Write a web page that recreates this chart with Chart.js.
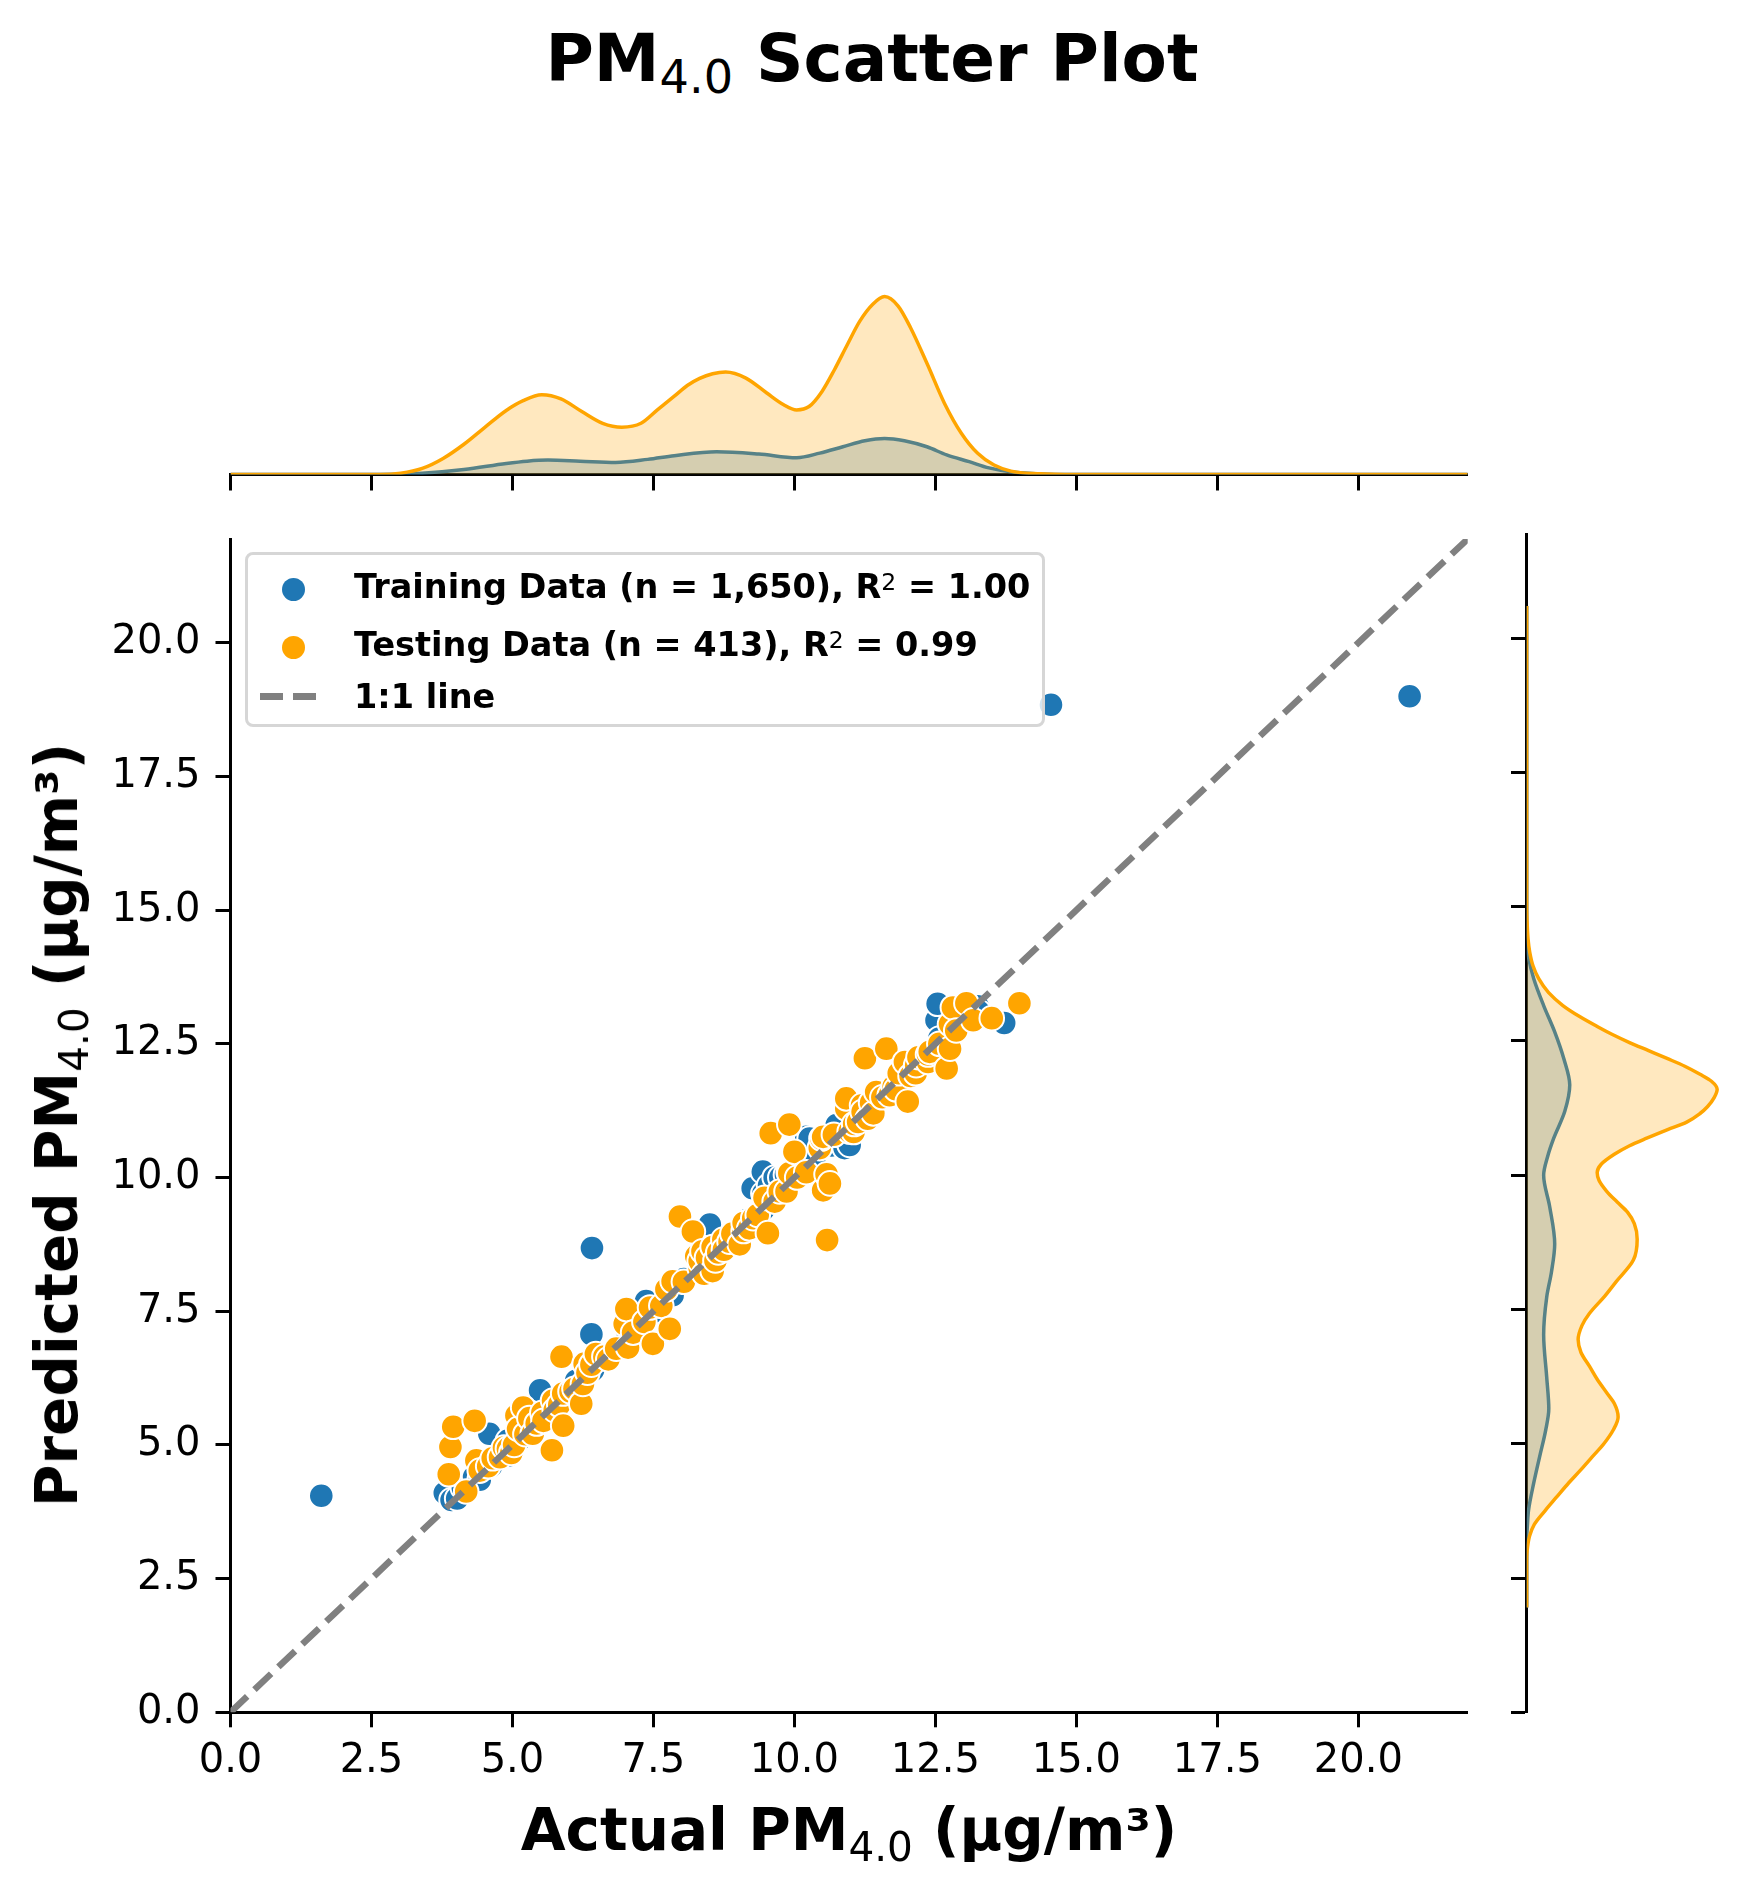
<!DOCTYPE html>
<html>
<head>
<meta charset="utf-8">
<title>PM4.0 Scatter Plot</title>
<script src="https://cdn.jsdelivr.net/npm/chart.js@4.4.1/dist/chart.umd.min.js"></script>
<style>
  html, body { margin: 0; padding: 0; background: #fff; }
  body { width: 1755px; height: 1891px; position: relative; overflow: hidden;
         font-family: "DejaVu Sans", sans-serif; color: #000; }
  canvas { position: absolute; }
  .txt { position: absolute; white-space: nowrap; line-height: 1; font-weight: bold; }
  .sub { font-size: 0.7em; font-weight: normal; position: relative; top: 0.26em; }
  .sup { font-size: 0.7em; font-weight: normal; position: relative; top: -0.33em; }
  #legend-box { position: absolute; left: 245px; top: 552px; width: 800px; height: 175px;
                box-sizing: border-box; border: 3px solid #d6d6d6; border-radius: 8px;
                background: rgba(255, 255, 255, 0.8); }
  .dot { position: absolute; width: 23px; height: 23px; border-radius: 50%; }
  .dash { position: absolute; height: 7px; width: 23px; background: #808080; }
  .legend-txt { font-size: 33.5px; left: 354px; }
</style>
</head>
<body>
<div class="txt" style="font-size:66px;left:0;top:26px;width:1744px;text-align:center">PM<span class="sub">4.0</span> Scatter Plot</div>

<canvas id="top-kde" width="1500" height="260" style="left:0;top:250px;width:1500px;height:260px"></canvas>
<canvas id="scatter" width="1500" height="1300" style="left:0;top:500px;width:1500px;height:1300px"></canvas>
<canvas id="right-kde" width="255" height="1300" style="left:1500px;top:500px;width:255px;height:1300px"></canvas>

<div id="legend-box"></div>
<span class="dot" style="left:281.5px;top:577.5px;background:#1f77b4"></span>
<span class="dot" style="left:281.5px;top:635.5px;background:#ffa500"></span>
<span class="dash" style="left:260px;top:692.5px"></span>
<span class="dash" style="left:293px;top:692.5px"></span>
<div class="txt legend-txt" style="top:569.7px">Training Data (n = 1,650), R<span class="sup">2</span> = 1.00</div>
<div class="txt legend-txt" style="top:627.7px">Testing Data (n = 413), R<span class="sup">2</span> = 0.99</div>
<div class="txt legend-txt" style="top:679.7px">1:1 line</div>

<div class="txt" style="font-size:58px;left:0;top:1801px;width:1698px;text-align:center">Actual PM<span class="sub">4.0</span> (μg/m³)</div>
<div class="txt" style="font-size:58px;left:57px;top:1125px;transform:translate(-50%,-50%) rotate(-90deg)">Predicted PM<span class="sub">4.0</span> (μg/m³)</div>

<script>
// axis range and tick step shared by the joint plot and both marginals
const axisMin = 0;
const axisMax = 21.94;
const tickStep = 2.5;

// [actual, predicted]
const trainingPoints = [
  [1.61, 4.05], [3.8, 4.1], [3.92, 3.97], [4.02, 4.0], [4.12, 4.2], [4.32, 4.4], [4.42, 4.35],
  [4.59, 5.21], [4.62, 4.6], [4.92, 5.08], [4.93, 4.8], [5.13, 5.1], [5.33, 5.3], [5.49, 6.02],
  [5.63, 5.6], [5.93, 5.9], [6.13, 6.2], [6.4, 7.07], [6.41, 8.68], [6.43, 6.4], [6.74, 6.7],
  [7.04, 7.0], [7.24, 7.2], [7.37, 7.69], [7.54, 7.5], [7.84, 7.8], [8.04, 8.1], [8.34, 8.3],
  [8.5, 9.12], [8.65, 8.7], [8.95, 8.9], [9.15, 9.2], [9.26, 9.8], [9.44, 10.11], [9.45, 9.4],
  [9.45, 9.7], [9.55, 9.85], [9.65, 10.0], [9.75, 9.75], [9.75, 10.0], [9.85, 10.05],
  [9.9, 10.1], [10.05, 10.0], [10.21, 10.76], [10.27, 10.73], [10.35, 10.3], [10.66, 10.6],
  [10.75, 10.98], [10.89, 10.55], [10.98, 10.61], [11.06, 10.9], [11.36, 11.3], [11.66, 11.6],
  [11.96, 11.9], [12.26, 12.2], [12.52, 12.94], [12.54, 13.25], [12.57, 12.6], [12.87, 12.8],
  [13.07, 13.2], [13.25, 13.2], [13.27, 13.1], [13.72, 12.89], [14.55, 18.84], [20.91, 19.0]
];

const testingPoints = [
  [3.87, 4.45], [3.9, 4.96], [3.95, 5.34], [4.18, 4.13], [4.33, 5.45], [4.36, 4.71],
  [4.42, 4.52], [4.57, 4.6], [4.65, 4.75], [4.78, 4.77], [4.85, 4.95], [4.92, 4.93],
  [4.98, 4.85], [5.03, 5.0], [5.07, 5.55], [5.1, 5.3], [5.19, 5.7], [5.23, 5.2], [5.3, 5.5],
  [5.36, 5.21], [5.43, 5.4], [5.53, 5.6], [5.55, 5.45], [5.7, 4.9], [5.72, 5.83], [5.75, 5.65],
  [5.83, 5.75], [5.87, 6.65], [5.9, 5.36], [5.9, 5.96], [6.03, 6.0], [6.1, 6.05], [6.22, 5.77],
  [6.25, 6.14], [6.28, 6.52], [6.33, 6.35], [6.4, 6.5], [6.48, 6.7], [6.63, 6.65], [6.7, 6.6],
  [6.84, 6.8], [6.99, 7.26], [7.02, 7.54], [7.05, 6.82], [7.14, 7.1], [7.34, 7.3], [7.44, 7.57],
  [7.49, 6.89], [7.64, 7.6], [7.73, 7.91], [7.79, 7.17], [7.84, 8.06], [7.97, 9.27],
  [8.04, 8.05], [8.2, 8.99], [8.26, 8.53], [8.32, 8.31], [8.32, 8.44], [8.37, 8.62],
  [8.4, 8.2], [8.45, 8.5], [8.55, 8.25], [8.55, 8.7], [8.6, 8.45], [8.65, 8.6], [8.74, 8.84],
  [8.75, 8.65], [8.85, 8.8], [8.9, 8.95], [9.03, 8.75], [9.1, 9.0], [9.1, 9.15], [9.2, 9.05],
  [9.27, 9.24], [9.35, 9.3], [9.47, 9.62], [9.53, 8.96], [9.58, 10.83], [9.65, 9.55],
  [9.74, 9.74], [9.86, 9.74], [9.91, 10.08], [9.91, 10.99], [10.0, 10.48], [10.05, 10.0],
  [10.21, 10.1], [10.45, 10.55], [10.48, 10.73], [10.51, 9.76], [10.51, 10.76], [10.57, 10.06],
  [10.58, 8.83], [10.63, 9.89], [10.7, 10.8], [10.92, 11.29], [10.92, 11.48], [10.98, 10.86],
  [11.05, 10.85], [11.06, 11.0], [11.13, 11.04], [11.2, 11.35], [11.21, 11.23], [11.25, 12.23],
  [11.3, 11.1], [11.36, 11.4], [11.4, 11.2], [11.45, 11.6], [11.56, 11.5], [11.63, 12.41],
  [11.69, 11.54], [11.76, 11.7], [11.8, 11.65], [11.85, 11.95], [11.96, 12.16], [12.01, 11.42],
  [12.06, 11.9], [12.15, 11.95], [12.16, 12.1], [12.2, 12.25], [12.37, 12.16], [12.37, 12.3],
  [12.4, 12.35], [12.57, 12.5], [12.7, 12.04], [12.76, 12.41], [12.76, 12.87], [12.81, 13.18],
  [12.87, 12.75], [13.05, 13.26], [13.17, 12.94], [13.5, 12.98], [13.99, 13.26]
];

const oneToOne = [0, 21.94];

// marginal densities, relative to the testing peak: [value, density]
const topTrainKde = [
  [0, 0], [2.65, 0], [3.4, 0.007], [4.14, 0.028], [4.89, 0.062], [5.26, 0.075], [5.63, 0.081],
  [6.2, 0.075], [6.83, 0.068], [7.4, 0.085], [7.87, 0.106], [8.62, 0.128], [9.37, 0.115],
  [10.04, 0.094], [10.45, 0.12], [10.86, 0.156], [11.25, 0.19], [11.6, 0.203], [11.95, 0.19],
  [12.35, 0.156], [12.7, 0.11], [13.1, 0.072], [13.45, 0.037], [13.84, 0.015], [14.35, 0.003],
  [15, 0], [21.94, 0]
];
const topTestKde = [
  [0, 0], [2.65, 0], [3.02, 0.0075], [3.4, 0.034], [3.77, 0.09], [4.14, 0.17], [4.51, 0.265],
  [4.89, 0.36], [5.19, 0.415], [5.52, 0.448], [5.86, 0.425], [6.23, 0.354], [6.6, 0.288],
  [6.94, 0.266], [7.28, 0.288], [7.57, 0.363], [7.87, 0.44], [8.1, 0.5], [8.32, 0.54],
  [8.55, 0.566], [8.78, 0.576], [9.14, 0.542], [9.51, 0.458], [9.81, 0.392], [10.04, 0.363],
  [10.26, 0.382], [10.49, 0.467], [10.71, 0.589], [10.94, 0.731], [11.16, 0.862], [11.39, 0.957],
  [11.6, 1.0], [11.84, 0.947], [12.06, 0.825], [12.36, 0.618], [12.66, 0.401], [12.96, 0.232],
  [13.25, 0.119], [13.54, 0.053], [13.84, 0.019], [14.35, 0.004], [15, 0], [21.94, 0]
];
const rightTrainKde = [
  [1.95, 0], [3.2, 0], [3.5, 0.004], [3.77, 0.01], [4.27, 0.037], [4.76, 0.068], [5.26, 0.1],
  [5.65, 0.116], [6.24, 0.105], [7.03, 0.089], [7.73, 0.105], [8.2, 0.13], [8.72, 0.147],
  [9.41, 0.121], [10.0, 0.089], [10.35, 0.11], [10.69, 0.142], [11.19, 0.2], [11.68, 0.226],
  [12.17, 0.195], [12.67, 0.147], [13.16, 0.089], [13.66, 0.037], [14.05, 0.01], [14.35, 0],
  [20.6, 0]
];
const rightTestKde = [
  [1.95, 0], [2.8, 0], [3.0, 0.002], [3.28, 0.015], [3.5, 0.04], [3.77, 0.1], [4.0, 0.155],
  [4.27, 0.22], [4.5, 0.28], [4.76, 0.345], [5.0, 0.405], [5.26, 0.455], [5.5, 0.48],
  [5.75, 0.46], [5.95, 0.42], [6.2, 0.37], [6.44, 0.33], [6.7, 0.285], [6.94, 0.27], [7.2, 0.29],
  [7.43, 0.33], [7.75, 0.41], [8.02, 0.47], [8.42, 0.56], [8.81, 0.58], [9.1, 0.565],
  [9.31, 0.53], [9.5, 0.475], [9.7, 0.42], [9.9, 0.38], [10.05, 0.37], [10.2, 0.39],
  [10.39, 0.46], [10.55, 0.54], [10.69, 0.63], [10.85, 0.74], [10.99, 0.84], [11.15, 0.91],
  [11.28, 0.95], [11.45, 0.985], [11.6, 1.0], [11.75, 0.97], [11.88, 0.91], [12.03, 0.83],
  [12.17, 0.74], [12.32, 0.64], [12.47, 0.54], [12.62, 0.45], [12.77, 0.37], [12.95, 0.28],
  [13.16, 0.19], [13.4, 0.115], [13.66, 0.063], [13.9, 0.033], [14.15, 0.016], [14.4, 0.007],
  [14.64, 0.003], [15, 0], [20.6, 0]
];

const BLUE = "#1f77b4";
const ORANGE = "#ffa500";
const BLUE_FILL = "rgba(31, 119, 180, 0.25)";
const ORANGE_FILL = "rgba(255, 165, 0, 0.25)";

Chart.defaults.font.family = '"DejaVu Sans", sans-serif';
Chart.defaults.color = "#000";

const toXY = (arr) => arr.map(([x, y]) => ({ x, y }));
const fmt = (v) => Number(v).toFixed(1);

const axisTicks = (len, extra = {}) => ({
  border: { color: "#000", width: 3 },
  grid: { drawOnChartArea: false, drawTicks: true, tickLength: len, tickWidth: 3, tickColor: "#000", color: "#000" },
  ticks: { stepSize: tickStep, includeBounds: false, autoSkip: false, maxRotation: 0, ...extra },
});

const baseOpts = {
  responsive: false,
  animation: false,
  events: [],
  plugins: { legend: { display: false }, tooltip: { enabled: false } },
};

// joint scatter
new Chart(document.getElementById("scatter"), {
  type: "scatter",
  data: {
    datasets: [
      {
        label: "1:1 line",
        data: oneToOne.map((v) => ({ x: v, y: v })),
        showLine: true,
        borderColor: "#808080",
        borderWidth: 6.5,
        borderDash: [23, 10],
        pointRadius: 0,
        order: 0,
      },
      {
        label: "Testing Data",
        data: toXY(testingPoints),
        backgroundColor: ORANGE,
        borderColor: "#fff",
        borderWidth: 2,
        pointRadius: 12.3,
        order: 1,
      },
      {
        label: "Training Data",
        data: toXY(trainingPoints),
        backgroundColor: BLUE,
        borderColor: "#fff",
        borderWidth: 2,
        pointRadius: 12.3,
        order: 2,
      },
    ],
  },
  options: {
    ...baseOpts,
    layout: { padding: { top: 34, right: 32.3, bottom: 0, left: 0 } },
    scales: {
      x: {
        type: "linear", min: axisMin, max: axisMax,
        afterFit: (s) => { s.height = 87.7; },
        ...axisTicks(15, { font: { size: 40 }, padding: 10, callback: fmt }),
      },
      y: {
        type: "linear", min: axisMin, max: axisMax,
        afterFit: (s) => { s.width = 230.5; },
        ...axisTicks(15, { font: { size: 40 }, padding: 15, callback: fmt }),
      },
    },
  },
});

const kdeSet = (data, line, fill) => ({
  data,
  showLine: true,
  borderColor: line,
  backgroundColor: fill,
  borderWidth: 3.5,
  pointRadius: 0,
  fill: "origin",
  cubicInterpolationMode: "monotone",
});

// top marginal (actual values)
new Chart(document.getElementById("top-kde"), {
  type: "scatter",
  data: {
    datasets: [
      kdeSet(toXY(topTestKde), ORANGE, ORANGE_FILL),
      kdeSet(toXY(topTrainKde), BLUE, BLUE_FILL),
    ],
  },
  options: {
    ...baseOpts,
    layout: { padding: { top: 37.7, right: 32.3, bottom: 0, left: 230.5 } },
    scales: {
      x: {
        type: "linear", min: axisMin, max: axisMax,
        afterFit: (s) => { s.height = 35.5; },
        ...axisTicks(16, { display: false }),
      },
      y: { type: "linear", display: false, min: 0, max: 1.05 },
    },
  },
});

// right marginal (predicted values)
new Chart(document.getElementById("right-kde"), {
  type: "scatter",
  data: {
    datasets: [
      kdeSet(rightTestKde.map(([v, d]) => ({ x: d, y: v })), ORANGE, ORANGE_FILL),
      kdeSet(rightTrainKde.map(([v, d]) => ({ x: d, y: v })), BLUE, BLUE_FILL),
    ],
  },
  options: {
    ...baseOpts,
    indexAxis: "y",
    layout: { padding: { top: 34, right: 28.3, bottom: 87.7, left: 0 } },
    scales: {
      x: { type: "linear", display: false, min: 0, max: 1.05 },
      y: {
        type: "linear", min: axisMin, max: axisMax,
        afterFit: (s) => { s.width = 26.7; },
        ...axisTicks(15.7, { display: false }),
      },
    },
  },
});
</script>
</body>
</html>
